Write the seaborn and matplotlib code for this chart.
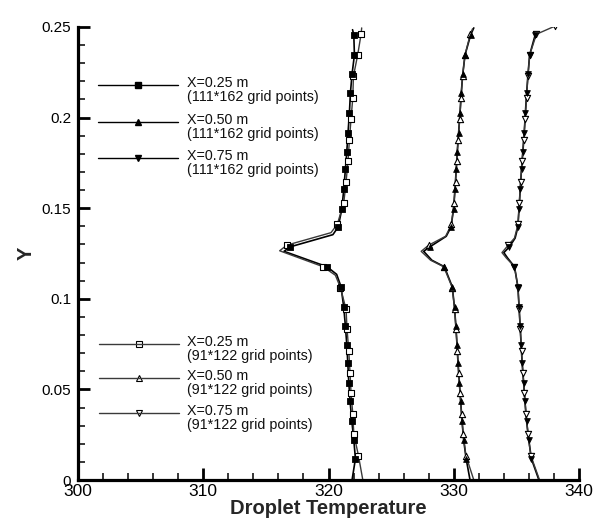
import numpy as np
import pandas as pd
import matplotlib
matplotlib.use("Agg")
import matplotlib.pyplot as plt
import seaborn as sns

# ---------------- data ----------------
# fine grid (111*162) marker heights
y_fine = [0.0117, 0.0221, 0.0327, 0.0437, 0.0537, 0.0647, 0.0747, 0.0848, 0.0952,
          0.1067, 0.1177, 0.1287, 0.1396, 0.1497, 0.1606, 0.1716, 0.1812, 0.1917,
          0.2027, 0.2136, 0.2240, 0.2346, 0.2456]
# coarse grid (91*122) marker heights
y_coarse = [0.0135, 0.0254, 0.0364, 0.0479, 0.0592, 0.0711, 0.0835, 0.0943, 0.1062,
            0.1177, 0.1296, 0.1411, 0.1530, 0.1643, 0.1761, 0.1877, 0.1994, 0.2109,
            0.2228, 0.2346, 0.2460]

t_fine_025 = [322.15, 322.02, 321.86, 321.72, 321.62, 321.54, 321.46, 321.35, 321.22,
              321.00, 319.88, 316.95, 320.77, 321.07, 321.22, 321.35, 321.46, 321.56,
              321.67, 321.75, 321.88, 322.07, 322.02]
t_fine_050 = [330.99, 330.79, 330.66, 330.55, 330.45, 330.34, 330.26, 330.17, 330.06,
              329.88, 329.25, 328.10, 329.78, 329.99, 330.10, 330.20, 330.28, 330.39,
              330.50, 330.60, 330.72, 330.90, 331.35]
t_fine_075 = [336.20, 335.99, 335.81, 335.68, 335.58, 335.46, 335.38, 335.30, 335.22,
              335.12, 334.85, 334.45, 335.12, 335.21, 335.31, 335.41, 335.52, 335.63,
              335.72, 335.82, 335.93, 336.06, 336.50]

t_coarse_025 = [322.39, 322.02, 321.94, 321.80, 321.72, 321.62, 321.48, 321.40, 320.95,
                319.57, 316.67, 320.70, 321.22, 321.40, 321.56, 321.67, 321.80, 321.94,
                321.99, 322.33, 322.60]
t_coarse_050 = [330.97, 330.75, 330.62, 330.50, 330.39, 330.29, 330.18, 330.07, 329.88,
                329.20, 328.00, 329.82, 330.02, 330.14, 330.24, 330.35, 330.48, 330.58,
                330.70, 330.90, 331.32]
t_coarse_075 = [336.15, 335.93, 335.77, 335.64, 335.52, 335.41, 335.31, 335.22, 335.13,
                334.85, 334.35, 335.13, 335.24, 335.34, 335.46, 335.58, 335.70, 335.81,
                335.92, 336.06, 336.60]

# extra curve vertices without markers (ends, dip tip, knees)
xtra_y_fine_025 = [0.0, 0.1135, 0.1262, 0.1354, 0.2485]
xtra_t_fine_025 = [321.88, 320.65, 316.45, 320.35, 321.92]
xtra_y_coarse_025 = [0.0, 0.1130, 0.1265, 0.1365, 0.2495]
xtra_t_coarse_025 = [322.74, 320.55, 316.10, 320.20, 322.65]
xtra_y_fine_050 = [0.0, 0.1213, 0.1262, 0.1345, 0.2495]
xtra_t_fine_050 = [331.30, 328.25, 327.60, 329.40, 331.60]
xtra_y_coarse_050 = [0.0, 0.1213, 0.1262, 0.1345, 0.2490]
xtra_t_coarse_050 = [331.60, 328.15, 327.40, 329.35, 331.50]
xtra_y_fine_075 = [0.0, 0.1225, 0.1255, 0.1335]
xtra_t_fine_075 = [336.80, 334.30, 334.00, 334.90]
xtra_y_coarse_075 = [0.0, 0.1225, 0.1255, 0.1335, 0.2505]
xtra_t_coarse_075 = [336.85, 334.20, 333.85, 334.85, 338.08]

positions = ["X=0.25 m", "X=0.50 m", "X=0.75 m"]
grid_fine_label = "(111*162 grid points)"
grid_coarse_label = "(91*122 grid points)"

x_ticks = [300, 310, 320, 330, 340]
y_ticks = [0, 0.05, 0.1, 0.15, 0.2, 0.25]
y_tick_labels = ["0", "0.05", "0.1", "0.15", "0.2", "0.25"]

# ---------------- figure ----------------
sns.set_theme(style="ticks")
plt.rcParams["font.family"] = ["Liberation Sans", "DejaVu Sans"]

W, H = 596, 524
AX_L, AX_R, AX_T, AX_B = 78, 579, 27, 480
fig = plt.figure(figsize=(W / 100, H / 100), dpi=100)
ax = fig.add_axes([AX_L / W, 1 - AX_B / H, (AX_R - AX_L) / W, (AX_B - AX_T) / H])

series = [
    ("fine", y_fine, t_fine_025, xtra_y_fine_025, xtra_t_fine_025, "s", True),
    ("fine", y_fine, t_fine_050, xtra_y_fine_050, xtra_t_fine_050, "^", True),
    ("fine", y_fine, t_fine_075, xtra_y_fine_075, xtra_t_fine_075, "v", True),
    ("coarse", y_coarse, t_coarse_025, xtra_y_coarse_025, xtra_t_coarse_025, "s", False),
    ("coarse", y_coarse, t_coarse_050, xtra_y_coarse_050, xtra_t_coarse_050, "^", False),
    ("coarse", y_coarse, t_coarse_075, xtra_y_coarse_075, xtra_t_coarse_075, "v", False),
]

line_col = {"fine": "black", "coarse": "#3a3a3a"}
line_w = {"fine": 1.2, "coarse": 1.0}
msize = {"s": 24, "^": 20, "v": 20}

for grid, ym, tm, yx, tx, mk, filled in series:
    line_df = pd.DataFrame({"Y": list(ym) + list(yx), "T": list(tm) + list(tx)})
    line_df = line_df.sort_values("Y")
    sns.lineplot(data=line_df, x="T", y="Y", orient="y", sort=True, estimator=None,
                 color=line_col[grid], lw=line_w[grid], ax=ax, zorder=2)
    mark_df = pd.DataFrame({"Y": ym, "T": tm})
    if filled:
        sns.scatterplot(data=mark_df, x="T", y="Y", marker=mk, s=msize[mk] * 0.85,
                        color="black", edgecolor="black", linewidth=0.6, ax=ax, zorder=4)
    else:
        sns.scatterplot(data=mark_df, x="T", y="Y", marker=mk, s=msize[mk],
                        facecolor="white", edgecolor="black", linewidth=0.8, ax=ax, zorder=3)
# coarse 0.75 end marker
sns.scatterplot(x=[xtra_t_coarse_075[-1]], y=[xtra_y_coarse_075[-1]], marker="v", s=msize["v"],
                facecolor="white", edgecolor="black", linewidth=0.8, ax=ax, zorder=3)

# ---------------- axes styling ----------------
ax.set_xlim(300, 340)
ax.set_ylim(0, 0.25)
ax.set_xticks(x_ticks)
ax.set_xticklabels([str(v) for v in x_ticks])
ax.set_yticks(y_ticks)
ax.set_yticklabels(y_tick_labels)
ax.set_xticks(np.arange(300, 341, 2), minor=True)
ax.set_yticks(np.arange(0, 0.2501, 0.01), minor=True)
sns.despine(ax=ax)
for s in ["left", "bottom"]:
    ax.spines[s].set_linewidth(2.3)
    ax.spines[s].set_color("black")
ax.tick_params(which="major", direction="in", length=8.5, width=2.0, colors="black")
ax.tick_params(which="minor", direction="in", length=5.0, width=1.1, colors="black")
ax.tick_params(axis="x", which="major", labelsize=12.5, pad=3)
ax.tick_params(axis="y", which="major", labelsize=11, pad=5)
ax.set_xlabel("Droplet Temperature", fontsize=14.5, fontweight="bold", labelpad=0)
ax.set_ylabel("Y", fontsize=14.5, fontweight="bold", labelpad=4)
ax.grid(False)

# ---------------- legends (two blocks, as in the reference) ----------------
PX = 1.0 / (AX_B - AX_T)   # one pixel in axes-fraction units (vertical)


def legend_block(x0, x1, xt, ys, labels, sub, markers, filled, col):
    for y, lab, mk in zip(ys, labels, markers):
        ax.plot([x0, x1], [y, y], transform=ax.transAxes, color=col, lw=1.0,
                clip_on=False, zorder=5)
        if filled:
            ax.plot([(x0 + x1) / 2], [y], transform=ax.transAxes, marker=mk,
                    ms=4.5 if mk == "s" else 3.8, color="black", ls="none", clip_on=False)
        else:
            ax.plot([(x0 + x1) / 2], [y], transform=ax.transAxes, marker=mk,
                    ms=4.5, mfc="white", mec="black", mew=0.8, ls="none", clip_on=False)
        ax.text(xt, y + 9 * PX, lab + "\n" + sub, transform=ax.transAxes, fontsize=10.3,
                va="top", ha="left", linespacing=1.0, color="#111111")


legend_block(0.040, 0.200, 0.2176, [0.872, 0.790, 0.711], positions, grid_fine_label,
             ["s", "^", "v"], True, "black")
legend_block(0.042, 0.202, 0.2176, [0.300, 0.225, 0.148], positions, grid_coarse_label,
             ["s", "^", "v"], False, "#3a3a3a")

fig.savefig("out.png", dpi=100)
